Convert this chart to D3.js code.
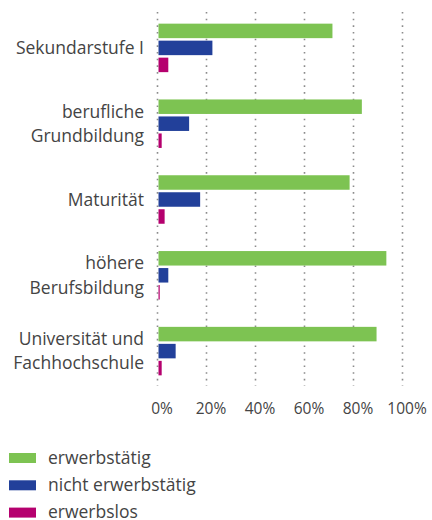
<!DOCTYPE html>
<html>
<head>
<meta charset="utf-8">
<script src="https://cdn.jsdelivr.net/npm/d3@7"></script>
<style>
  body { margin: 0; background: #fff; }
  text { font-family: "Open Sans", "Noto Sans", sans-serif; fill: #444; }
</style>
</head>
<body>
<svg></svg>
<script>
const width = 432;
const height = 520;

// data
const categories = [
  ["Sekundarstufe I"],
  ["berufliche", "Grundbildung"],
  ["Maturität"],
  ["höhere", "Berufsbildung"],
  ["Universität und", "Fachhochschule"]
];
const series = ["erwerbstätig", "nicht erwerbstätig", "erwerbslos"];
const erwerbstaetig = [71, 83, 78, 93, 89];
const nichtErwerbstaetig = [22, 12.5, 17, 4, 7];
const erwerbslos = [4, 1.3, 2.5, 0.5, 1.3];
const ticks = [0, 20, 40, 60, 80, 100];
const colors = ["#7dc352", "#22409a", "#b5006e"];

const values = [erwerbstaetig, nichtErwerbstaetig, erwerbslos];
const keys = categories.map(c => c.join(" "));

const svg = d3.select("svg").attr("width", width).attr("height", height);

const xScale = d3.scaleLinear().domain([0, 100]).range([158.5, 403.5]);
const yScale = d3.scaleBand().domain(keys).range([10, 389]).padding(0);
const inner = d3.scaleBand().domain(series)
  .range([0, 48.5]).paddingInner(0.147).paddingOuter(0);
const innerOffset = (yScale.bandwidth() - 48.5) / 2;

// dotted gridlines
svg.append("g")
  .selectAll("line")
  .data(ticks)
  .enter()
  .append("line")
  .attr("x1", d => xScale(d) - 1)
  .attr("x2", d => xScale(d) - 1)
  .attr("y1", 12)
  .attr("y2", 386)
  .attr("stroke", "#8c8c8c")
  .attr("stroke-width", 1.6)
  .attr("stroke-dasharray", "1.6 5.07");

// bars
const group = svg.append("g")
  .selectAll("g")
  .data(keys)
  .enter()
  .append("g")
  .attr("transform", d => "translate(0," + (yScale(d) + innerOffset) + ")");

group.selectAll("rect")
  .data((d, i) => series.map((s, j) => ({ s: s, v: values[j][i], c: colors[j] })))
  .enter()
  .append("rect")
  .attr("x", xScale(0))
  .attr("y", d => inner(d.s))
  .attr("width", d => xScale(d.v) - xScale(0))
  .attr("height", inner.bandwidth())
  .attr("fill", d => d.c);

// category labels
svg.append("g")
  .selectAll("text")
  .data(categories)
  .enter()
  .append("text")
  .attr("text-anchor", "end")
  .attr("font-size", 17.5)
  .attr("x", 144)
  .attr("y", (d, i) => yScale(keys[i]) + yScale.bandwidth() / 2)
  .each(function (d) {
    const t = d3.select(this);
    d.forEach((line, k) => {
      t.append("tspan")
        .attr("x", 144)
        .attr("dy", k === 0 ? (0.35 - (d.length - 1) * 0.7) + "em" : "1.4em")
        .text(line);
    });
  });

// x axis
const xAxis = d3.axisBottom(xScale).tickValues(ticks).tickFormat(d => d + "%").tickSize(0);
svg.append("g")
  .attr("transform", "translate(0,400)")
  .call(xAxis)
  .call(g => g.select(".domain").remove())
  .selectAll("text")
  .attr("font-size", 15.5)
  .attr("font-family", null)
  .attr("fill", null)
  .attr("dx", "3");

// legend
const legend = svg.append("g")
  .selectAll("g")
  .data(series)
  .enter()
  .append("g")
  .attr("transform", (d, i) => "translate(9," + (453 + i * 27.3) + ")");

legend.append("rect")
  .attr("width", 27)
  .attr("height", 10)
  .attr("fill", (d, i) => colors[i]);

legend.append("text")
  .attr("x", 39)
  .attr("y", 5)
  .attr("dy", "0.33em")
  .attr("font-size", 17.5)
  .text(d => d);
</script>
</body>
</html>
